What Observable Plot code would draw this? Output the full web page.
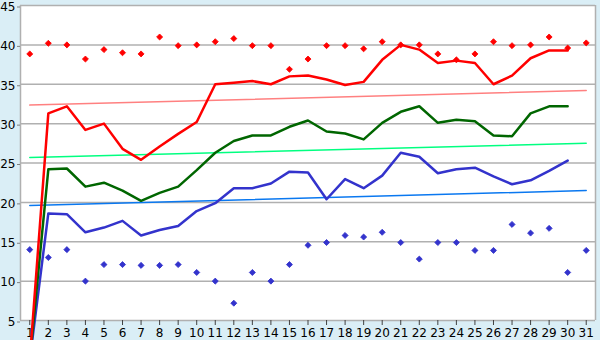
<!DOCTYPE html>
<html>
<head>
<meta charset="utf-8">
<script src="https://cdn.jsdelivr.net/npm/d3@7"></script>
<script src="https://cdn.jsdelivr.net/npm/@observablehq/plot@0.6"></script>
<style>
  html, body { margin: 0; padding: 0; background: #daeef6; }
  #chart svg { display: block; }
</style>
</head>
<body>
<div id="chart"></div>
<script>
const days = [1,2,3,4,5,6,7,8,9,10,11,12,13,14,15,16,17,18,19,20,21,22,23,24,25,26,27,28,29,30,31];
const yTicks = [5,10,15,20,25,30,35,40,45];

// Lines (days 1..30)
const redLine   = [0,31.3,32.2,29.2,30.0,26.8,25.4,27.1,28.7,30.2,35.0,35.2,35.4,35.0,36.0,36.1,35.6,34.9,35.3,38.1,40.0,39.4,37.7,38.0,37.7,35.0,36.1,38.3,39.3,39.3];
const greenLine = [0,24.2,24.3,22.0,22.5,21.5,20.2,21.2,22.0,24.1,26.3,27.8,28.5,28.5,29.6,30.4,29.0,28.75,28.0,30.1,31.5,32.2,30.1,30.5,30.3,28.5,28.4,31.3,32.2,32.2];
const blueLine  = [0,18.6,18.5,16.2,16.8,17.65,15.8,16.5,17.0,18.9,19.9,21.8,21.8,22.4,23.9,23.8,20.4,22.95,21.8,23.4,26.3,25.8,23.7,24.2,24.4,23.3,22.3,22.8,24.0,25.3];

// Points (days 1..31)
const redPts  = [38.85,40.2,40.0,38.2,39.4,39.0,38.85,41.0,39.9,40.0,40.4,40.8,39.9,39.9,36.9,38.2,39.9,39.9,39.5,40.4,40.0,40.0,38.85,38.1,38.85,40.4,39.9,40.0,41.0,39.6,40.25];
const bluePts = [14.0,13.0,14.0,10.0,12.1,12.1,12.0,12.0,12.1,11.1,10.0,7.2,11.1,10.0,12.1,14.55,14.9,15.8,15.6,16.2,14.9,12.8,14.9,14.9,13.9,13.9,17.2,16.1,16.7,11.1,13.9];

// Trend lines (endpoints at day 1 and day 31)
const trendDays  = [1, 31];
const redTrend   = [32.35, 34.2];
const greenTrend = [25.7, 27.5];
const blueTrend  = [19.6, 21.5];

const lineData = (vals) => vals.map((v, i) => ({day: days[i], v}));
const trendData = (vals) => vals.map((v, i) => ({day: trendDays[i], v}));

const chart = Plot.plot({
  width: 600,
  height: 340,
  marginLeft: 20,
  marginRight: 5,
  marginTop: 5,
  marginBottom: 20,
  style: {background: "#daeef6", fontFamily: "DejaVu Sans, Verdana, sans-serif", fontSize: "12px", color: "#000", overflow: "visible"},
  x: {domain: [0.5, 31.5], axis: null},
  y: {domain: [5, 45], axis: null},
  marks: [
    Plot.frame({fill: "white", stroke: null}),
    Plot.ruleY(yTicks, {stroke: "#b0b0b0", strokeWidth: 1.5}),
    Plot.ruleX([0.5, 31.5], {y1: 5, y2: 45, stroke: "#b0b0b0", strokeWidth: 1.5}),
    // y axis ticks and labels
    Plot.axisY({ticks: yTicks, tickSize: 3, tickPadding: 2, stroke: "#808080", fill: "#000", fontSize: 12, anchor: "left", label: null, dy: 1.5}),
    // x axis ticks and labels
    Plot.axisX({ticks: days, tickSize: 5, tickPadding: 3, stroke: "#404040", fill: "#000", fontSize: 12, anchor: "bottom", label: null, tickFormat: d => String(d)}),
    // trend lines
    Plot.line(trendData(redTrend),   {x: "day", y: "v", stroke: "#ff8080", strokeWidth: 1.5}),
    Plot.line(trendData(greenTrend), {x: "day", y: "v", stroke: "#00ff80", strokeWidth: 1.5}),
    Plot.line(trendData(blueTrend),  {x: "day", y: "v", stroke: "#0a78f0", strokeWidth: 1.5}),
    // main lines
    Plot.line(lineData(blueLine),  {x: "day", y: "v", stroke: "#3333cc", strokeWidth: 2.5}),
    Plot.line(lineData(greenLine), {x: "day", y: "v", stroke: "#006600", strokeWidth: 2.5}),
    Plot.line(lineData(redLine),   {x: "day", y: "v", stroke: "#ff0000", strokeWidth: 2.5}),
    // points
    Plot.dot(redPts.map((v, i) => ({day: days[i], v})),  {x: "day", y: "v", symbol: "square", rotate: 45, r: 2.4, fill: "#ff0000", stroke: "#ff0000", strokeWidth: 0.8}),
    Plot.dot(bluePts.map((v, i) => ({day: days[i], v})), {x: "day", y: "v", symbol: "square", rotate: 45, r: 2.4, fill: "#3333cc", stroke: "#3333cc", strokeWidth: 0.8})
  ]
});
document.getElementById("chart").appendChild(chart);
</script>
</body>
</html>
